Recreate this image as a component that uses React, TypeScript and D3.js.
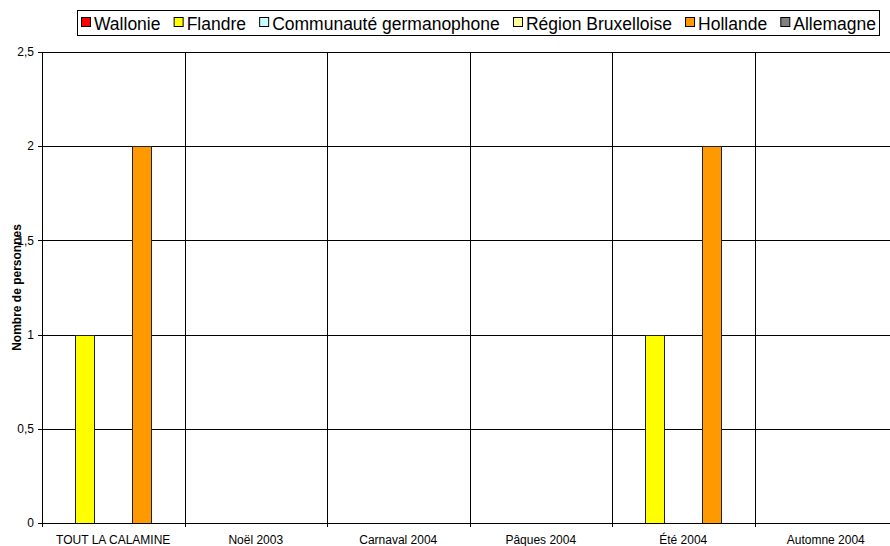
import React from "react";
import * as d3 from "d3";

const categories = ["TOUT LA CALAMINE", "Noël 2003", "Carnaval 2004", "Pâques 2004", "Été 2004", "Automne 2004"];
const seriesNames = ["Wallonie", "Flandre", "Communauté germanophone", "Région Bruxelloise", "Hollande", "Allemagne"];
const seriesColors = ["#FF0000", "#FFFF00", "#CCFFFF", "#FFFF99", "#FF9900", "#808080"];
const wallonie = [0, 0, 0, 0, 0, 0];
const flandre = [1, 0, 0, 0, 1, 0];
const communaute = [0, 0, 0, 0, 0, 0];
const bruxelles = [0, 0, 0, 0, 0, 0];
const hollande = [2, 0, 0, 0, 2, 0];
const allemagne = [0, 0, 0, 0, 0, 0];
const yTicks = [0, 0.5, 1, 1.5, 2, 2.5];
const yTickLabels = ["0", "0,5", "1", "1,5", "2", "2,5"];
const yTitle = "Nombre de personnes";

const W = 890;
const H = 546;
const FONT = "'Liberation Sans', Arial, sans-serif";

function measure(text: string, font: string): number {
  const c = document.createElement("canvas");
  const ctx = c.getContext("2d");
  if (!ctx) return text.length * 8;
  ctx.font = font;
  return ctx.measureText(text).width;
}

export default function App() {
  const values = [wallonie, flandre, communaute, bruxelles, hollande, allemagne];
  const left = 42;
  const step = 142.5;
  const right = left + step * categories.length;
  const top = 52;
  const bottom = 523;

  const x = d3.scaleBand<string>().domain(categories).range([left, right]).paddingInner(0).paddingOuter(0);
  const xs = d3.scaleBand<string>().domain(seriesNames).range([0, x.bandwidth()]).paddingInner(0).paddingOuter(0.75);
  const y = d3.scaleLinear().domain([0, 2.5]).range([bottom, top]);
  const cy = (v: number) => Math.round(y(v)) + 0.5;

  const legendFontSize = 17.5;
  const legendFont = `${legendFontSize}px ${FONT}`;
  const firstSquare = 81;
  const textOffset = 13;
  const lastTextEnd = 876;
  const widths = seriesNames.map((n) => measure(n, legendFont));
  const sumW = widths.reduce((a, b) => a + b, 0);
  const spacing = (lastTextEnd - firstSquare - seriesNames.length * textOffset - sumW) / (seriesNames.length - 1);
  let lx = firstSquare;
  const items = seriesNames.map((name, i) => {
    const it = { name, color: seriesColors[i], sx: lx, tx: lx + textOffset };
    lx = lx + textOffset + widths[i] + spacing;
    return it;
  });

  const boundaries = categories.map((c) => x(c) as number).concat([right]);

  return (
    <svg width={W} height={H} style={{ position: "absolute", left: 0, top: 0, background: "#fff" }} fontFamily={FONT}>
      <rect x={0} y={0} width={W} height={H} fill="#fff" />
      {yTicks.map((t) => (
        <line key={"g" + t} x1={left} x2={right} y1={cy(t)} y2={cy(t)} stroke="#000" strokeWidth={1} />
      ))}
      {boundaries.map((b, i) => (
        <line key={"v" + i} x1={Math.round(b) + 0.5} x2={Math.round(b) + 0.5} y1={cy(2.5)} y2={bottom + 4} stroke="#000" strokeWidth={1} />
      ))}
      {categories.map((c, ci) =>
        seriesNames.map((s, si) => {
          const v = values[si][ci];
          if (!v) return null;
          const bx = (x(c) as number) + (xs(s) as number);
          return (
            <rect
              key={c + s}
              x={Math.round(bx) + 0.5}
              y={cy(v)}
              width={Math.round(xs.bandwidth())}
              height={cy(0) - cy(v)}
              fill={seriesColors[si]}
              stroke="#222"
              strokeWidth={1}
            />
          );
        })
      )}
      <line x1={left + 0.5} x2={left + 0.5} y1={cy(2.5)} y2={bottom + 0.5} stroke="#000" />
      <line x1={left} x2={right} y1={bottom + 0.5} y2={bottom + 0.5} stroke="#000" />
      {yTicks.map((t, i) => (
        <g key={"t" + t}>
          <line x1={left - 4} x2={left} y1={cy(t)} y2={cy(t)} stroke="#000" />
          <text x={34} y={y(t)} dy="0.35em" textAnchor="end" fontSize={12} fill="#000">
            {yTickLabels[i]}
          </text>
        </g>
      ))}
      {categories.map((c) => (
        <text key={"c" + c} x={(x(c) as number) + x.bandwidth() / 2} y={543.5} textAnchor="middle" fontSize={12} fill="#000">
          {c}
        </text>
      ))}
      <text
        transform={`translate(21,${(top + bottom) / 2}) rotate(-90)`}
        textAnchor="middle"
        fontSize={12}
        fontWeight="bold"
        fill="#000"
      >
        {yTitle}
      </text>
      <rect x={77.5} y={10.5} width={802} height={25} fill="#fff" stroke="#000" strokeWidth={1} />
      {items.map((it) => (
        <g key={"l" + it.name}>
          <rect x={it.sx + 0.5} y={17.5} width={9} height={9} fill={it.color} stroke="#000" strokeWidth={1} />
          <text x={it.tx} y={29.5} fontSize={legendFontSize} fill="#000">
            {it.name}
          </text>
        </g>
      ))}
    </svg>
  );
}
